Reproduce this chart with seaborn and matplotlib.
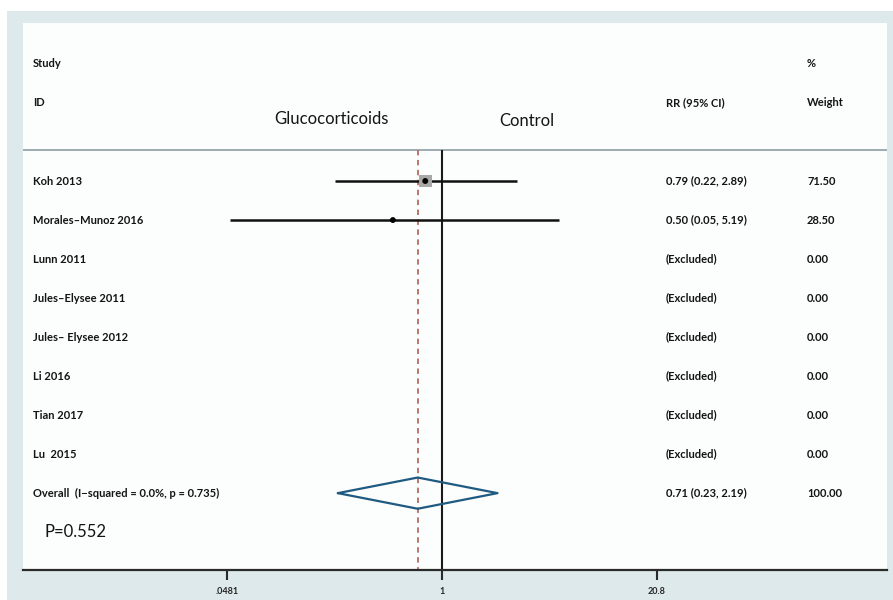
import numpy as np
import pandas as pd
import matplotlib
matplotlib.use("Agg")
import matplotlib.pyplot as plt
import seaborn as sns
import matplotlib.transforms as mtransforms

# ---------------- data ----------------
studies = ["Koh 2013", "Morales\u2013Munoz 2016", "Lunn 2011", "Jules\u2013Elysee 2011",
           "Jules\u2013 Elysee 2012", "Li 2016", "Tian 2017", "Lu  2015"]
rr = [0.79, 0.50, np.nan, np.nan, np.nan, np.nan, np.nan, np.nan]
ci_low = [0.22, 0.05, np.nan, np.nan, np.nan, np.nan, np.nan, np.nan]
ci_high = [2.89, 5.19, np.nan, np.nan, np.nan, np.nan, np.nan, np.nan]
ci_text = ["0.79 (0.22, 2.89)", "0.50 (0.05, 5.19)", "(Excluded)", "(Excluded)",
           "(Excluded)", "(Excluded)", "(Excluded)", "(Excluded)"]
weights = ["71.50", "28.50", "0.00", "0.00", "0.00", "0.00", "0.00", "0.00"]
overall_label = "Overall  (I\u2212squared = 0.0%, p = 0.735)"
overall_rr = 0.71
overall_low = 0.23
overall_high = 2.19
overall_text = "0.71 (0.23, 2.19)"
overall_weight = "100.00"
p_text = "P=0.552"
tick_values = [0.0481, 1, 20.8]
tick_labels = [".0481", "1", "20.8"]

# ---------------- style ----------------
sns.set_style("white")
plt.rcParams['font.family'] = ['Lato', 'DejaVu Sans']

W, H = 893, 600
fig = plt.figure(figsize=(W / 100, H / 100), dpi=100)
fig.patch.set_facecolor("white")

bg = fig.add_axes([7 / W, 0, (W - 7) / W, (H - 11) / H], zorder=-5)
bg.set_facecolor("#dde9ea")
bg.set_xticks([]); bg.set_yticks([])
for s in bg.spines.values():
    s.set_visible(False)

ax = fig.add_axes([23 / W, 30 / H, (887 - 23) / W, (570 - 23) / H], zorder=1)
ax.set_facecolor("#fcfdfd")
ax.set_xscale("log")
ax.set_xlim(0.002703, 534.5)
ax.set_ylim(9.97, -4.05)

n = len(studies)
rows = np.arange(n)
overall_row = n
df = pd.DataFrame({"study": studies, "rr": rr, "lo": ci_low, "hi": ci_high, "row": rows})
valid = df.dropna()

sep_row = -0.8
ax.axhline(sep_row, color="#8e9ea3", lw=1.2, zorder=1)

ax.vlines(1, sep_row, 9.97, color="#1a1a1a", lw=1.5, zorder=2)
ax.vlines(overall_rr, sep_row, 9.97, color="#b86a64", lw=1.3,
          linestyles=(0, (3, 2.5)), zorder=2)

ax.hlines(valid["row"], valid["lo"], valid["hi"], color="#111111", lw=1.8, zorder=3)

sns.scatterplot(data=valid.iloc[[0]], x="rr", y="row", marker="s", s=85,
                color="#a8a8a8", edgecolor="none", ax=ax, zorder=4, legend=False)
sns.scatterplot(data=valid, x="rr", y="row", marker="o", s=18,
                color="black", edgecolor="none", ax=ax, zorder=5, legend=False)

dx = [overall_low, overall_rr, overall_high, overall_rr, overall_low]
dy = [overall_row, overall_row - 0.4, overall_row, overall_row + 0.4, overall_row]
ax.plot(dx, dy, color="#1f5a80", lw=1.6, zorder=4)

def xf(px):
    return (px - 23) / (887 - 23)

trans = mtransforms.blended_transform_factory(ax.transAxes, ax.transData)
fs = 8.0
tk = dict(transform=trans, fontsize=fs, fontweight="bold", color="#141414",
          va="center", ha="left")

ax.text(xf(33), -3, "Study", **tk)
ax.text(xf(33), -2, "ID", **tk)
ax.text(xf(807), -3, "%", **tk)
ax.text(xf(666), -2, "RR (95% CI)", **tk)
ax.text(xf(807), -2, "Weight", **tk)
ax.text(xf(331), -1.6, "Glucocorticoids", transform=trans, fontsize=12,
        color="#141414", ha="center", va="center")
ax.text(xf(527), -1.55, "Control", transform=trans, fontsize=12,
        color="#141414", ha="center", va="center")

for i in range(n):
    ax.text(xf(33), rows[i], studies[i], **tk)
    ax.text(xf(666), rows[i], ci_text[i], **tk)
    ax.text(xf(807), rows[i], weights[i], **tk)
ax.text(xf(33), overall_row, overall_label, **tk)
ax.text(xf(666), overall_row, overall_text, **tk)
ax.text(xf(807), overall_row, overall_weight, **tk)
ax.text(xf(45), overall_row + 1, p_text, transform=trans, fontsize=12,
        color="#141414", ha="left", va="center")

for s in ["top", "right", "left"]:
    ax.spines[s].set_visible(False)
ax.spines["bottom"].set_color("#2a2a2a")
ax.spines["bottom"].set_linewidth(1.6)
ax.set_yticks([])
ax.set_xticks(tick_values)
ax.set_xticklabels(tick_labels)
ax.minorticks_off()
ax.tick_params(axis="x", which="major", bottom=True, direction="out", length=7,
               width=1.5, color="#2a2a2a", labelsize=6.5, pad=5)
for lab in ax.get_xticklabels():
    lab.set_fontweight("bold")
ax.set_xlabel("")
ax.set_ylabel("")

fig.savefig("out.png", dpi=100)
